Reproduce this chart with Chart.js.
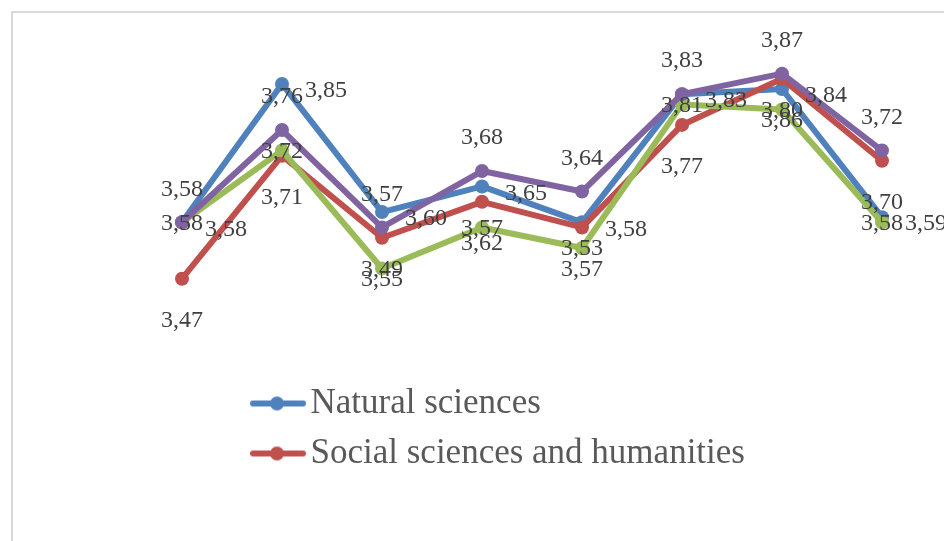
<!DOCTYPE html>
<html>
<head>
<meta charset="utf-8">
<script src="https://cdn.jsdelivr.net/npm/chart.js@4/dist/chart.umd.min.js"></script>
<style>
  html, body { margin: 0; padding: 0; background: #ffffff; overflow: hidden; }
  #frame { position: absolute; left: 11px; top: 11px; width: 1000px; height: 1000px; border: 2px solid #d9d9d9; box-sizing: border-box; }
  #c { position: absolute; left: 0; top: 0; }
</style>
</head>
<body>
<div id="frame"></div>
<canvas id="c" width="944" height="541"></canvas>
<script>
// ---- data ----
const categories = ["1", "2", "3", "4", "5", "6", "7", "8"];
const seriesNames = ["Natural sciences", "Social sciences and humanities", "Series 3", "Series 4"];
const naturalSciences = [3.58, 3.85, 3.60, 3.65, 3.58, 3.83, 3.84, 3.59];
const socialSciences  = [3.47, 3.71, 3.55, 3.62, 3.57, 3.77, 3.86, 3.70];
const series3         = [3.58, 3.72, 3.49, 3.57, 3.53, 3.81, 3.80, 3.58];
const series4         = [3.58, 3.76, 3.57, 3.68, 3.64, 3.83, 3.87, 3.72];
const yMin = 3.29, yMax = 4.0;

const colors = ["#4F81BD", "#C0504D", "#9BBB59", "#8064A2"];
// label placement per series: right, below, center, above
const labelPlacement = ["right", "below", "center", "above"];

function legendIcon(color) {
  const c = document.createElement('canvas');
  c.width = 172; c.height = 20;
  const g = c.getContext('2d');
  g.strokeStyle = color; g.lineWidth = 6; g.lineCap = 'round';
  g.beginPath(); g.moveTo(119, 10); g.lineTo(169, 10); g.stroke();
  g.fillStyle = color;
  g.beginPath(); g.arc(143, 10, 7, 0, Math.PI * 2); g.fill();
  return c;
}
const icons = colors.map(legendIcon);

const valueLabels = {
  id: 'valueLabels',
  afterDatasetsDraw(chart) {
    const ctx = chart.ctx;
    ctx.save();
    ctx.font = '24px "Liberation Serif", "Times New Roman", serif';
    ctx.fillStyle = '#404040';
    ctx.textBaseline = 'middle';
    chart.data.datasets.forEach((ds, di) => {
      const meta = chart.getDatasetMeta(di);
      const place = labelPlacement[di];
      meta.data.forEach((pt, i) => {
        const txt = ds.data[i].toFixed(2).replace('.', ',');
        let x = pt.x, y = pt.y;
        if (place === 'right') { ctx.textAlign = 'left'; x += 23; y += 7; }
        else if (place === 'below') { ctx.textAlign = 'center'; y += 42; }
        else if (place === 'center') { ctx.textAlign = 'center'; y += 1; }
        else { ctx.textAlign = 'center'; y -= 33; }
        ctx.fillText(txt, x, y);
      });
    });
    ctx.restore();
  }
};

const allSeries = [naturalSciences, socialSciences, series3, series4];
const drawOrder = [3, 2, 1, 0];

new Chart(document.getElementById('c'), {
  type: 'line',
  data: {
    labels: categories,
    datasets: allSeries.map((d, i) => ({
      label: seriesNames[i],
      data: d,
      borderColor: colors[i],
      backgroundColor: colors[i],
      pointBackgroundColor: colors[i],
      pointBorderColor: colors[i],
      borderWidth: 6,
      pointRadius: 7,
      pointBorderWidth: 0,
      tension: 0,
      borderJoinStyle: 'round',
      borderCapStyle: 'round',
      order: drawOrder[i],
      clip: false
    }))
  },
  options: {
    responsive: false,
    animation: false,
    devicePixelRatio: 1,
    layout: { padding: { left: 132, right: 12, top: 7, bottom: 60 } },
    scales: {
      x: { display: false, offset: true },
      y: { display: false, min: yMin, max: yMax }
    },
    plugins: {
      tooltip: { enabled: false },
      legend: {
        position: 'bottom',
        align: 'start',
        fullSize: true,
        labels: {
          usePointStyle: true,
          pointStyleWidth: 146,
          padding: 15,
          color: '#595959',
          font: { family: '"Liberation Serif", "Times New Roman", serif', size: 35 },
          filter: (item) => item.datasetIndex < 2,
          sort: (a, b) => a.datasetIndex - b.datasetIndex,
          generateLabels: (chart) => {
            const items = Chart.defaults.plugins.legend.labels.generateLabels(chart);
            items.forEach(it => { it.pointStyle = icons[it.datasetIndex]; });
            return items;
          }
        }
      }
    }
  },
  plugins: [valueLabels]
});
</script>
</body>
</html>
